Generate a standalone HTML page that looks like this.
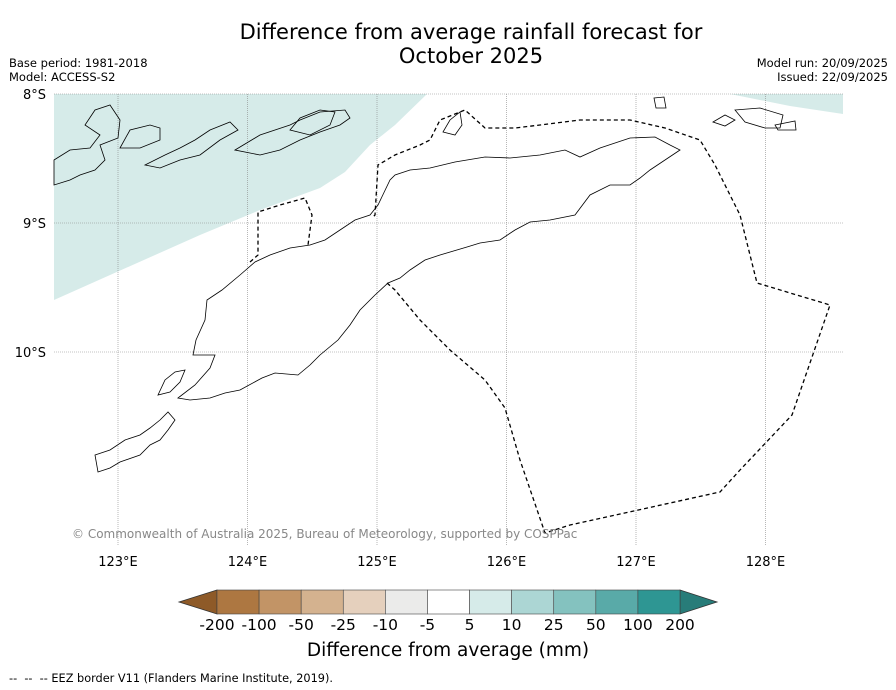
<!DOCTYPE html>
<html><head><meta charset="utf-8"><style>
body{margin:0;background:#fff;font-family:"DejaVu Sans","Liberation Sans",sans-serif;}
#wrap{position:relative;width:896px;height:690px;overflow:hidden;}
.t{position:absolute;white-space:nowrap;}
</style></head><body>
<div id="wrap">
<div class="t" style="left:0;width:942px;text-align:center;top:20px;font-size:21px;line-height:24px;">Difference from average rainfall forecast for<br>October 2025</div>
<div class="t" style="left:9px;top:56px;font-size:11.5px;line-height:14px;">Base period: 1981-2018<br>Model: ACCESS-S2</div>
<div class="t" style="right:8px;top:56px;font-size:11.5px;line-height:14px;text-align:right;">Model run: 20/09/2025<br>Issued: 22/09/2025</div>
<svg id="map" width="896" height="690" style="position:absolute;left:0;top:0"></svg>
<div class="t" style="left:0;width:896px;text-align:center;top:640px;font-size:18.5px;">Difference from average (mm)</div>
<div class="t" style="left:9px;top:672px;font-size:11.3px;">--&nbsp; --&nbsp; -- EEZ border V11 (Flanders Marine Institute, 2019).</div>
</div>
<script>
const lonTicks=[123,124,125,126,127,128];
const latTicks=[8,9,10];
const cbLabels=["-200","-100","-50","-25","-10","-5","5","10","25","50","100","200"];
const cbColors=["#ad7741","#c29466","#d4b28f","#e5d0bd","#ebebea","#ffffff","#d6ebe9","#acd6d4","#84c2bf","#59aaa8","#2e9693"];
const lowColor="#8e5a28", highColor="#287c79";
const NS="http://www.w3.org/2000/svg";
const svg=document.getElementById('map');
const X0=54,X1=843,Y0=94,Y1=545;
const lonX=l=>118+(l-123)*129.5;
const latY=l=>94+(l-8)*129;
function mk(tag,attrs,parent){const e=document.createElementNS(NS,tag);for(const k in attrs)e.setAttribute(k,attrs[k]);(parent||svg).appendChild(e);return e;}
let e=mk('polygon',{points:"54,94 427,94 395,125 370,145 345,172 320,188 260,210 200,235 54,300",fill:"#d6ebe9"});

e=mk('polygon',{points:"730,94 843,94 843,114 790,106",fill:"#d6ebe9"});

lonTicks.forEach(l=>{const x=lonX(l);
 e=mk('line',{x1:x,x2:x,y1:Y0,y2:Y1,stroke:"#888","stroke-width":0.6,"stroke-dasharray":"1,1"});
 
 e=mk('text',{x:x,y:566,"text-anchor":"middle","font-size":13});e.textContent=l+"°E";
 });
latTicks.forEach(l=>{const y=latY(l);
 e=mk('line',{x1:X0,x2:X1,y1:y,y2:y,stroke:"#888","stroke-width":0.6,"stroke-dasharray":"1,1"});
 
 e=mk('text',{x:46,y:y+5,"text-anchor":"end","font-size":13});e.textContent=l+"°S";
 });
const coasts=[
"178,398 195,385 210,368 215,355 193,355 196,340 205,320 207,300 222,290 240,275 255,262 270,255 290,248 310,245 325,240 340,230 355,220 370,215 378,205 390,180 395,175 410,170 430,168 455,162 485,157 510,158 540,155 565,150 580,157 600,148 630,138 655,137 670,145 680,150 665,160 650,170 640,178 630,185 610,185 590,195 575,215 550,220 530,222 515,230 500,240 480,243 467,247 440,255 425,260 410,270 400,278 388,283 375,295 360,310 350,325 338,340 320,355 310,365 298,375 275,373 262,378 240,390 225,393 210,398 190,400 178,398",
"95,455 110,450 125,440 140,435 150,428 160,420 168,412 175,420 168,430 160,440 150,445 140,455 120,462 110,468 98,472",
"158,395 165,380 175,372 185,370 180,382 170,392",
"54,160 70,150 90,148 100,135 85,125 95,110 110,105 120,120 118,138 100,145 105,160 95,170 80,175 70,180 54,185",
"120,148 130,130 150,125 160,128 160,140 140,148",
"145,165 165,155 180,148 195,140 210,130 230,122 238,130 220,140 200,155 180,160 160,168",
"235,150 260,135 290,125 300,120 320,112 345,110 350,118 340,125 320,132 300,140 280,150 260,155",
"290,130 300,118 320,110 335,112 330,125 310,135",
"443,132 450,120 460,112 462,125 455,135",
"654,98 664,97 666,108 656,108",
"713,122 725,115 735,120 725,126",
"735,110 760,108 783,115 780,128 765,128 745,122",
"775,125 795,121 796,130 778,130"];
coasts.forEach(p=>{e=mk('polygon',{points:p,fill:"none",stroke:"#000","stroke-width":0.8});
 });
const eez=["250,262 258,255 258,212 280,205 305,198 312,215 308,245",
"387,283 395,290 420,320 450,350 485,380 505,408 520,460 545,533 570,525 720,492 740,470 792,415 830,305 757,283 740,215 715,165 700,140 665,128 630,120 580,120 540,125 515,128 485,128 465,110 440,120 430,140 420,145 395,155 378,165 375,215 372,218"];
eez.forEach(p=>{e=mk('polyline',{points:p,fill:"none",stroke:"#000","stroke-width":1.3,"stroke-dasharray":"4,3"});
 });
e=mk('text',{x:72,y:538,"font-size":12,fill:"#888"});e.textContent="© Commonwealth of Australia 2025, Bureau of Meteorology, supported by COSPPac";

const cbL=217,cbR=680,cbT=590,cbB=614,bw=(cbR-cbL)/cbColors.length;
e=mk('polygon',{points:`${cbL},${cbT} 179,${(cbT+cbB)/2} ${cbL},${cbB}`,fill:lowColor,stroke:"#333","stroke-width":0.8});

e=mk('polygon',{points:`${cbR},${cbT} 717,${(cbT+cbB)/2} ${cbR},${cbB}`,fill:highColor,stroke:"#333","stroke-width":0.8});

cbColors.forEach((c,i)=>{e=mk('rect',{x:cbL+i*bw,y:cbT,width:bw,height:cbB-cbT,fill:c,stroke:"#444","stroke-width":0.6});
 });
cbLabels.forEach((t,i)=>{e=mk('text',{x:cbL+i*bw,y:630,"text-anchor":"middle","font-size":15.5});e.textContent=t;
 });
</script>
</body></html>
